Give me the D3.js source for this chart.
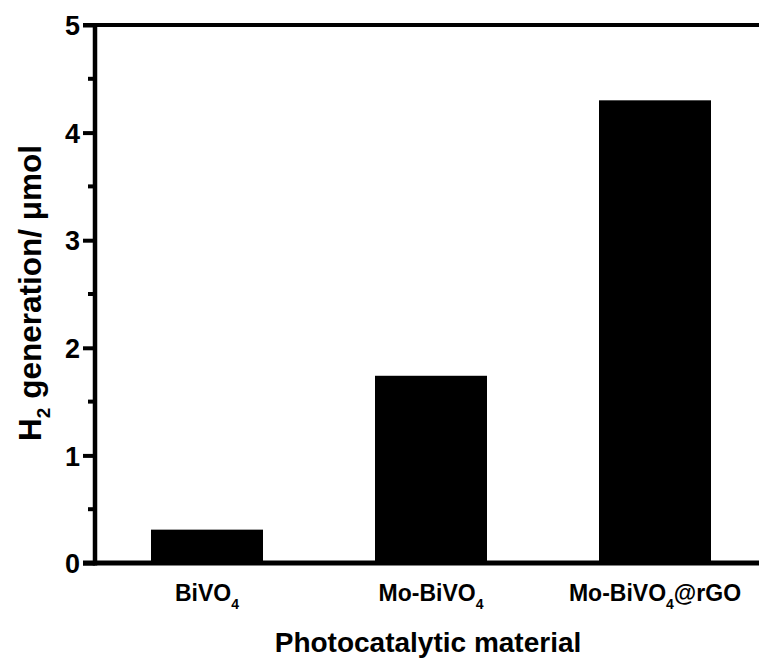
<!DOCTYPE html>
<html>
<head>
<meta charset="utf-8">
<script src="https://cdn.jsdelivr.net/npm/d3@7"></script>
<style>
  html, body { margin: 0; padding: 0; background: #fff; }
  svg { display: block; font-family: "Liberation Sans", Arial, Helvetica, sans-serif; font-weight: bold; }
</style>
</head>
<body>
<svg id="chart" width="759" height="669"></svg>
<script>
// H2 evolved by each photocatalyst (µmol)
const materials = ["BiVO4", "Mo-BiVO4", "Mo-BiVO4@rGO"];
const h2Values = [0.31, 1.74, 4.30];
// label parts: [text, isSubscript]
const labelParts = [
  [["BiVO", false], ["4", true]],
  [["Mo-BiVO", false], ["4", true]],
  [["Mo-BiVO", false], ["4", true], ["@rGO", false]]
];
const majorTicks = [0, 1, 2, 3, 4, 5];
const minorTicks = [0.5, 1.5, 2.5, 3.5, 4.5];

const svg = d3.select("#chart");
const plotLeft = 95, plotTop = 25, plotBottom = 563, plotRight = 770;

const y = d3.scaleLinear().domain([0, 5]).range([plotBottom, plotTop]);
const x = d3.scaleBand().domain(materials)
  .range([plotLeft, plotLeft + 3 * 224])
  .paddingInner(0.5).paddingOuter(0.25);

// bars
svg.append("g").selectAll("rect")
  .data(materials)
  .join("rect")
  .attr("x", d => x(d))
  .attr("width", x.bandwidth())
  .attr("y", (d, i) => y(h2Values[i]))
  .attr("height", (d, i) => y(0) - y(h2Values[i]))
  .attr("fill", "#000");

// y axis with major ticks and labels
const yAxis = d3.axisLeft(y).tickValues(majorTicks).tickSize(12).tickPadding(3)
  .tickFormat(d3.format("d"));
const gy = svg.append("g").attr("transform", `translate(${plotLeft},0)`).call(yAxis);
gy.select(".domain").remove();
gy.selectAll(".tick line").attr("stroke", "#000").attr("stroke-width", 4);
gy.selectAll(".tick text").attr("font-size", 27).attr("font-weight", "bold")
  .attr("fill", "#000").attr("font-family", "Liberation Sans, Arial, sans-serif")
  .attr("dy", "0.36em");

// minor ticks
svg.append("g").selectAll("line")
  .data(minorTicks)
  .join("line")
  .attr("x1", plotLeft - 7).attr("x2", plotLeft)
  .attr("y1", d => y(d)).attr("y2", d => y(d))
  .attr("stroke", "#000").attr("stroke-width", 4);

// frame lines
svg.append("line").attr("x1", plotLeft).attr("x2", plotLeft).attr("y1", plotTop - 2).attr("y2", plotBottom + 2.5)
  .attr("stroke", "#000").attr("stroke-width", 4.5);
svg.append("line").attr("x1", plotLeft - 12).attr("x2", plotRight).attr("y1", plotTop).attr("y2", plotTop)
  .attr("stroke", "#000").attr("stroke-width", 4);
svg.append("line").attr("x1", plotLeft - 12).attr("x2", plotRight).attr("y1", plotBottom).attr("y2", plotBottom)
  .attr("stroke", "#000").attr("stroke-width", 5);

// category labels with subscripts
const catLabels = svg.append("g").selectAll("text")
  .data(materials)
  .join("text")
  .attr("x", d => x(d) + x.bandwidth() / 2)
  .attr("y", 601)
  .attr("text-anchor", "middle")
  .attr("font-size", 23)
  .attr("fill", "#000");
catLabels.each(function(d, i) {
  const t = d3.select(this);
  labelParts[i].forEach(([s, sub], k) => {
    const prevSub = k > 0 && labelParts[i][k - 1][1];
    const ts = t.append("tspan").text(s);
    if (sub) ts.attr("font-size", 14).attr("dy", 8);
    else if (prevSub) ts.attr("dy", -8);
  });
});

// x axis title
svg.append("text")
  .attr("x", 428).attr("y", 652)
  .attr("text-anchor", "middle")
  .attr("font-size", 28)
  .attr("fill", "#000")
  .text("Photocatalytic material");

// y axis title
const yt = svg.append("text")
  .attr("transform", "translate(41,293) rotate(-90)")
  .attr("text-anchor", "middle")
  .attr("font-size", 31.5)
  .attr("fill", "#000");
yt.append("tspan").text("H");
yt.append("tspan").text("2").attr("font-size", 19).attr("dy", 9);
yt.append("tspan").text(" generation/ \u03bcmol").attr("dy", -9);
</script>
</body>
</html>
